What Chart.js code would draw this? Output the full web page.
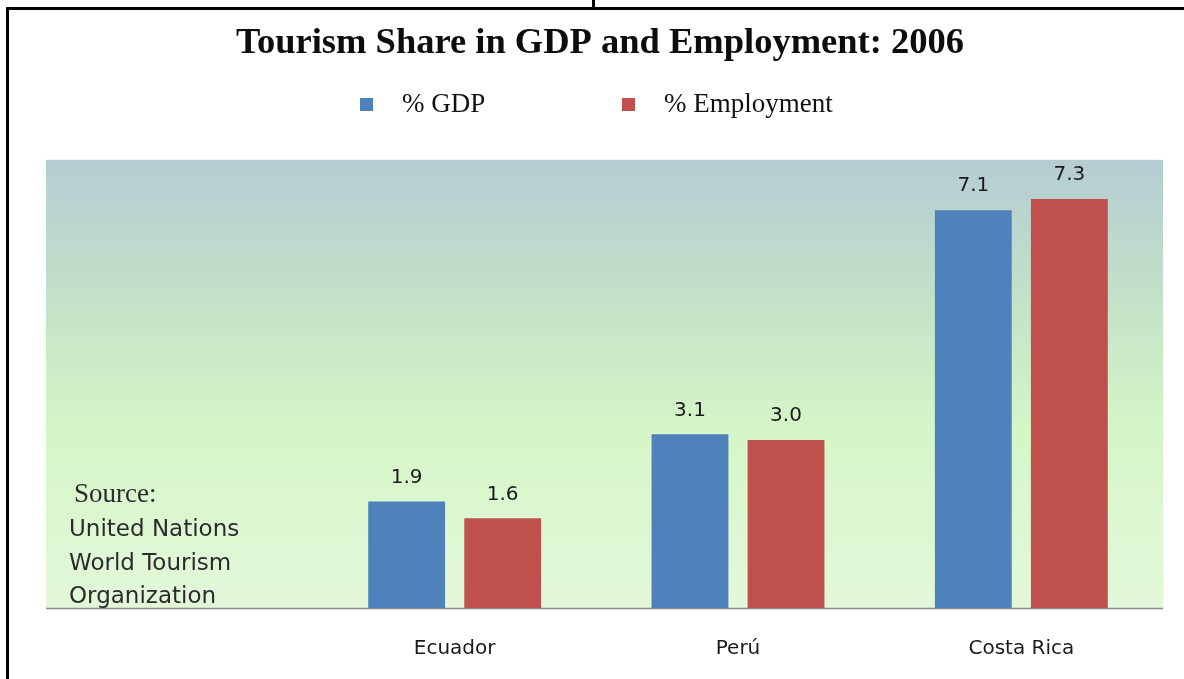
<!DOCTYPE html>
<html>
<head>
<meta charset="utf-8">
<script src="https://cdn.jsdelivr.net/npm/chart.js@4.4.0/dist/chart.umd.min.js"></script>
<style>
  html, body { margin: 0; padding: 0; background: #fff; }
  canvas { display: block; }
</style>
</head>
<body>
<canvas id="myChart" width="1184" height="679"></canvas>
<script>
// ---- Datos
const paises = ["Ecuador", "Perú", "Costa Rica"];
const gdp = [1.9, 3.1, 7.1];
const empleo = [1.6, 3.0, 7.3];
const series = ["% GDP", "% Employment"];
const titulo = "Tourism Share in GDP and Employment: 2006";
const fuente = ["United Nations", "World Tourism", "Organization"];

const ctx = document.getElementById("myChart");

// fondo degradado, linea del eje y marco negro
const fondo = {
    id: "fondo",
    beforeDraw(chart) {
        const c = chart.ctx;
        const area = chart.chartArea;
        const izq = 46;
        c.save();
        c.fillStyle = "#fff";
        c.fillRect(0, 0, chart.width, chart.height);

        const grad = c.createLinearGradient(0, area.top, 0, area.bottom);
        grad.addColorStop(0, "#b5ccd3");
        grad.addColorStop(0.3, "#c2e1c8");
        grad.addColorStop(0.6, "#d5f6c7");
        grad.addColorStop(1, "#e3f8da");
        c.fillStyle = grad;
        c.fillRect(izq, area.top, area.right - izq, area.bottom - area.top);

        c.strokeStyle = "#8a8a8a";
        c.lineWidth = 1.5;
        c.beginPath();
        c.moveTo(izq, area.bottom + 0.5);
        c.lineTo(area.right, area.bottom + 0.5);
        c.stroke();

        c.fillStyle = "#000";
        c.fillRect(6, 7, chart.width - 6, 3);
        c.fillRect(6, 7, 3, chart.height - 7);
        c.fillRect(592, 0, 3, 7);
        c.restore();
    }
};

// valores sobre las barras, leyenda y fuente
const textos = {
    id: "textos",
    afterDatasetsDraw(chart) {
        const c = chart.ctx;
        c.save();
        c.textBaseline = "middle";

        c.font = '20px "DejaVu Sans"';
        c.fillStyle = "#1a1a1a";
        c.textAlign = "center";
        chart.data.datasets.forEach((ds, i) => {
            chart.getDatasetMeta(i).data.forEach((bar, j) => {
                c.fillText(ds.data[j].toFixed(1), bar.x, bar.y - 24);
            });
        });

        c.textAlign = "left";
        c.font = '27px "Liberation Serif"';
        const legX = [360, 622];
        chart.data.datasets.forEach((ds, i) => {
            c.fillStyle = ds.backgroundColor;
            c.fillRect(legX[i], 98, 13, 13);
            c.fillStyle = "#111";
            c.fillText(ds.label, legX[i] + 42, 105);
        });

        c.fillStyle = "#2b2b2b";
        c.font = '27px "Liberation Serif"';
        c.fillText("Source:", 74, 495);
        c.font = '23px "DejaVu Sans"';
        const ys = [530, 564, 597];
        fuente.forEach((linea, k) => c.fillText(linea, 69, ys[k]));
        c.restore();
    }
};

const chart = new Chart(ctx, {
    type: "bar",
    data: {
        labels: paises,
        datasets: [{
            label: series[0],
            data: gdp,
            backgroundColor: "#4f81bd",
            borderWidth: 0,
        }, {
            label: series[1],
            data: empleo,
            backgroundColor: "#c0504d",
            borderWidth: 0,
        }],
    },
    options: {
        responsive: false,
        animation: false,
        categoryPercentage: 0.678,
        barPercentage: 0.8,
        layout: {
            padding: { left: 37, right: 21, top: 0, bottom: 19 },
        },
        plugins: {
            legend: { display: false },
            tooltip: { enabled: false },
            title: {
                display: true,
                text: titulo,
                color: "#0d0d0d",
                font: { family: "Liberation Serif", size: 36.5, weight: "bold" },
                padding: { top: 22, bottom: 94 },
            },
        },
        scales: {
            x: {
                grid: { display: false, drawTicks: false },
                border: { display: false },
                ticks: {
                    color: "#1a1a1a",
                    padding: 29,
                    font: { family: "DejaVu Sans", size: 20 },
                },
                afterFit(scale) {
                    scale.height = 52;
                },
            },
            y: {
                min: 0,
                max: 8,
                grid: { display: false, drawTicks: false },
                border: { display: false },
                ticks: { display: false },
                afterFit(scale) {
                    scale.width = 276; // deja sitio para la fuente
                },
            },
        },
    },
    plugins: [fondo, textos],
});
</script>
</body>
</html>
